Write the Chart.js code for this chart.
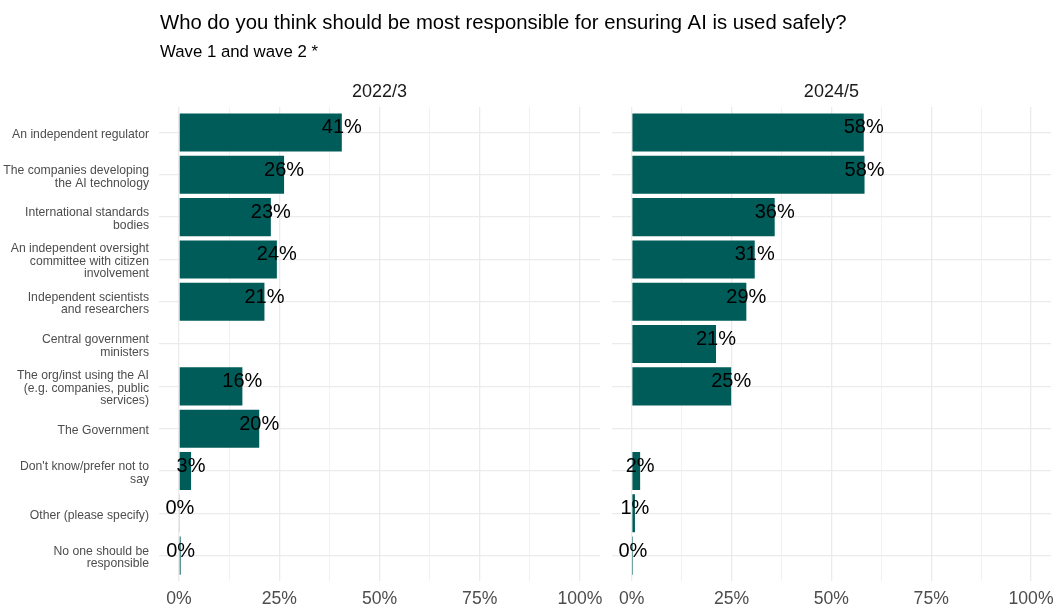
<!DOCTYPE html>
<html>
<head>
<meta charset="utf-8">
<script src="https://cdn.jsdelivr.net/npm/chart.js@4/dist/chart.umd.min.js"></script>
<style>
  html, body { margin: 0; padding: 0; background: #fff; overflow: hidden; width: 1055px; height: 610px; }
  #wrap { position: relative; width: 1055px; height: 610px; overflow: hidden; }
  canvas { position: absolute; top: 0; }
  #c1 { left: 0; }
  #c2 { left: 611px; }
</style>
</head>
<body>
<div id="wrap">
  <canvas id="c1" width="1055" height="610"></canvas>
  <canvas id="c2" width="474" height="610"></canvas>
</div>
<script>
// Headings
const titleText = 'Who do you think should be most responsible for ensuring AI is used safely?';
const subtitleText = 'Wave 1 and wave 2 *';

// Facet labels (survey waves)
const panels = ['2022/3', '2024/5'];

// Answer options, wrapped as they appear on the axis
const categories = [
  ['An independent regulator'],
  ['The companies developing', 'the AI technology'],
  ['International standards', 'bodies'],
  ['An independent oversight', 'committee with citizen', 'involvement'],
  ['Independent scientists', 'and researchers'],
  ['Central government', 'ministers'],
  ['The org/inst using the AI', '(e.g. companies, public', 'services)'],
  ['The Government'],
  ["Don't know/prefer not to", 'say'],
  ['Other (please specify)'],
  ['No one should be', 'responsible']
];

// Share of respondents (%), null where the option was not asked
const wave2022 = [40.6, 26.2, 22.9, 24.4, 21.3, null, 15.8, 20.0, 3.0, 0.2, 0.4];
const wave2024 = [58.1, 58.3, 35.8, 30.8, 28.7, 21.1, 24.9, null, 2.1, 0.8, 0.3];

// Labelled percentage ticks
const xTickLabels = [0, 25, 50, 75, 100];

const FONT = '"Liberation Sans", Arial, Helvetica, sans-serif';
const BAR = '#005c59';
const GRID = '#ebebeb';

Chart.defaults.font.family = FONT;

const valueLabels = {
  id: 'valueLabels',
  afterDatasetsDraw(chart) {
    const ctx = chart.ctx;
    const meta = chart.getDatasetMeta(0);
    const data = chart.data.datasets[0].data;
    ctx.save();
    ctx.font = '20px ' + FONT;
    ctx.fillStyle = '#000';
    ctx.textAlign = 'center';
    ctx.textBaseline = 'alphabetic';
    meta.data.forEach((bar, i) => {
      const v = data[i].x;
      if (v === null || v === undefined) return;
      ctx.fillText(Math.round(v) + '%', bar.x, bar.y + 1);
    });
    ctx.restore();
  }
};

const heading = {
  id: 'heading',
  afterDraw(chart) {
    const ctx = chart.ctx;
    ctx.save();
    ctx.fillStyle = '#000';
    ctx.textAlign = 'left';
    ctx.textBaseline = 'alphabetic';
    ctx.font = '20.3px ' + FONT;
    ctx.fillText(titleText, 160, 29);
    ctx.font = '16.8px ' + FONT;
    ctx.fillText(subtitleText, 160, 56.5);
    ctx.restore();
  }
};

function makePanel(canvasId, values, panelTitle, withAxisLabels, padRight, extraPlugins) {
  return new Chart(document.getElementById(canvasId), {
    type: 'bar',
    data: {
      datasets: [{
        data: values.map((v, i) => ({ x: v, y: i })),
        backgroundColor: BAR,
        borderWidth: 0,
        categoryPercentage: 1,
        barPercentage: 0.9
      }]
    },
    options: {
      indexAxis: 'y',
      responsive: false,
      maintainAspectRatio: false,
      animation: false,
      events: [],
      layout: { padding: { top: 70, right: padRight, bottom: 0, left: 0 } },
      plugins: {
        legend: { display: false },
        tooltip: { enabled: false },
        title: {
          display: true,
          text: panelTitle,
          fullSize: false,
          color: '#1a1a1a',
          font: { size: 18, weight: 'normal', family: FONT },
          padding: { top: 11, bottom: 4.5 }
        }
      },
      scales: {
        x: {
          type: 'linear',
          min: -5,
          max: 105,
          border: { display: false },
          grid: {
            color: GRID,
            drawTicks: false,
            lineWidth: (c) => (c.tick && xTickLabels.includes(c.tick.value)) ? 1.3 : 0.7
          },
          ticks: {
            stepSize: 12.5,
            includeBounds: false,
            autoSkip: false,
            maxRotation: 0,
            padding: 8,
            color: '#4d4d4d',
            font: { size: 17.6, family: FONT },
            callback: (v) => xTickLabels.includes(v) ? v + '%' : ''
          },
          afterFit: (s) => { s.height = 29; }
        },
        y: {
          type: 'linear',
          reverse: true,
          offset: false,
          min: -0.6,
          max: 10.6,
          border: { display: false },
          grid: { color: GRID, lineWidth: 1.3, drawTicks: false, offset: false },
          ticks: {
            display: withAxisLabels,
            stepSize: 1,
            includeBounds: false,
            autoSkip: false,
            maxTicksLimit: 20,
            padding: 10,
            labelOffset: 2,
            color: '#4d4d4d',
            font: { size: 12.2, lineHeight: 1.04, family: FONT },
            callback: (v) => categories[v] || ''
          },
          afterFit: (s) => { s.width = withAxisLabels ? 159 : 0; }
        }
      }
    },
    plugins: [valueLabels].concat(extraPlugins)
  });
}

makePanel('c1', wave2022, panels[0], true, 455, [heading]);
makePanel('c2', wave2024, panels[1], false, 34, []);
</script>
</body>
</html>
